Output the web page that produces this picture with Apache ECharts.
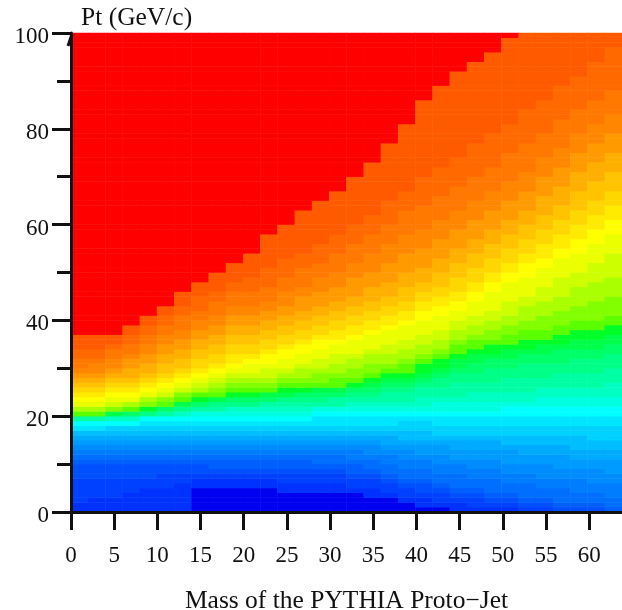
<!DOCTYPE html>
<html><head><meta charset="utf-8">
<script src="https://cdn.jsdelivr.net/npm/echarts@6/dist/echarts.min.js"></script>
<style>html,body{margin:0;padding:0;background:#fff}#c{width:622px;height:610px}</style>
</head><body><div id="c"></div>
<script>
// Pt (GeV/c) at which each colour band starts for mass columns 1,3,5,...,63
const xTitle = 'Mass of the PYTHIA Proto\u2212Jet';
const yTitle = 'Pt (GeV/c)';
const band1  = [0,0,0,0,0,0,0,5,5,5,5,5,4,4,4,4,4,3,3,2,1,1,0,0,0,0,0,0,0,0,0,0];
const band2  = [2,3,3,4,5,5,6,7,7,7,7,7,6,6,6,6,5,5,4,3,3,2,2,1,1,1,0,0,0,0,0,0];
const band3  = [7,7,7,7,7,8,8,8,8,8,8,8,8,8,8,8,7,7,6,5,4,4,3,3,2,2,1,1,0,0,0,0];
const band4  = [10,10,10,10,10,10,10,10,9,9,9,9,9,9,9,9,8,8,7,6,6,5,4,4,3,3,2,2,1,1,1,0];
const band5  = [11,11,11,11,11,11,11,11,11,11,11,11,11,11,10,10,10,9,8,7,7,6,5,5,4,4,3,3,2,2,2,1];
const band6  = [12,12,12,12,12,12,12,12,12,12,12,12,12,12,12,12,11,11,10,9,9,8,8,7,7,6,6,5,5,4,4,3];
const band7  = [13,13,13,13,13,13,13,13,13,13,13,13,13,13,13,13,13,12,12,11,11,10,10,9,9,8,8,7,7,7,6,6];
const band8  = [14,14,14,14,14,14,14,14,14,14,14,14,14,14,14,14,14,14,13,13,12,12,11,11,11,10,10,10,9,9,9,8];
const band9  = [15,15,15,15,15,15,15,15,15,15,15,15,15,15,15,15,15,15,14,14,14,14,13,13,13,13,12,12,12,11,11,11];
const band10 = [16,16,16,16,16,16,16,16,16,16,16,16,16,16,16,16,16,16,16,15,15,15,15,15,15,14,14,14,14,13,13,13];
const band11 = [17,17,17,17,17,17,17,17,17,17,17,17,17,17,17,17,17,17,17,17,17,16,16,16,16,16,16,16,16,16,15,15];
const band12 = [17,17,18,18,18,18,18,18,18,18,18,18,18,18,18,18,18,18,18,19,19,18,18,18,18,18,18,18,18,18,18,18];
const band13 = [18,18,18,18,19,19,19,19,19,19,19,19,19,19,20,20,20,20,20,20,20,20,20,20,20,20,20,20,20,20,20,20];
const band14 = [19,19,19,19,20,20,20,20,20,20,20,20,20,20,21,21,21,21,21,21,21,21,21,21,21,22,22,22,22,22,22,22];
const band15 = [19,19,19,19,20,20,20,21,21,21,21,21,21,21,22,22,22,22,22,22,22,23,23,23,23,23,23,24,24,24,24,24];
const band16 = [19,19,20,20,20,20,21,21,21,22,22,22,22,22,22,22,23,23,23,23,24,24,24,25,25,25,25,26,26,26,26,27];
const band17 = [20,20,20,20,20,21,21,22,22,22,22,23,23,23,23,24,24,24,25,25,26,26,27,27,27,28,28,28,29,29,29,30];
const band18 = [20,20,20,20,21,21,22,22,23,23,23,23,24,24,24,24,25,25,26,26,27,28,29,29,30,30,31,31,31,32,32,33];
const band19 = [20,20,20,21,21,22,22,23,23,24,24,24,24,25,25,25,26,26,27,27,28,29,30,31,32,32,33,33,34,34,34,35];
const band20 = [20,20,21,21,21,22,23,23,24,24,24,25,25,25,26,26,26,27,28,28,29,30,32,33,33,34,34,35,35,36,36,37];
const band21 = [20,20,21,21,22,22,23,24,24,25,25,25,26,26,26,26,27,28,29,29,31,32,33,34,35,35,36,36,37,38,38,39];
const band22 = [21,21,21,22,22,23,24,25,25,26,26,26,27,27,27,28,28,29,30,31,32,33,35,36,36,37,38,38,39,40,40,41];
const band23 = [21,21,22,22,23,24,25,25,26,27,27,27,28,28,29,29,30,31,31,32,33,34,36,37,38,39,40,41,42,43,44,45];
const band24 = [22,22,22,23,24,24,25,26,27,28,28,28,29,30,30,31,32,33,33,34,35,36,38,39,40,41,43,44,45,47,48,49];
const band25 = [22,22,23,23,24,25,26,27,28,29,29,30,30,31,32,33,33,34,35,36,37,38,40,41,42,44,45,47,49,50,52,54];
const band26 = [23,23,24,24,25,26,27,28,29,30,31,31,32,33,34,35,36,37,38,39,40,41,42,44,46,48,49,51,53,54,56,58];
const band27 = [24,24,25,25,26,27,28,29,30,31,32,33,34,35,36,36,37,38,39,40,42,43,44,46,48,50,52,53,55,57,59,61];
const band28 = [25,25,26,26,27,28,29,30,31,33,33,34,35,36,37,38,39,40,41,42,44,45,46,48,50,52,54,56,58,60,62,64];
const band29 = [26,26,27,27,28,29,30,32,33,35,35,36,37,38,39,40,41,42,43,44,46,47,49,51,53,55,57,59,61,63,65,67];
const band30 = [27,27,28,28,29,31,32,34,35,37,37,38,39,40,41,42,43,44,45,47,48,50,52,54,56,58,60,62,64,67,69,71];
const band31 = [28,28,29,30,31,33,34,36,37,39,39,40,41,42,43,44,45,47,48,50,51,53,55,57,59,61,63,66,68,71,73,75];
const band32 = [29,29,30,32,33,35,36,38,39,41,41,42,43,45,46,47,49,50,52,54,55,57,59,61,63,65,67,70,72,75,77,79];
const band33 = [30,31,32,33,35,37,38,40,41,43,43,44,46,47,49,50,52,54,56,58,59,61,63,65,67,69,71,74,76,79,81,83];
const band34 = [32,32,34,35,37,39,41,42,44,46,46,47,49,51,52,54,56,58,60,63,64,66,68,70,72,75,77,79,82,84,86,88];
const band35 = [34,34,35,37,39,41,43,45,46,48,49,51,53,54,56,58,60,62,65,67,70,72,74,77,79,81,84,86,89,91,94,97];
const band36 = [37,37,37,39,41,43,46,48,50,52,54,58,60,63,65,67,70,73,77,81,86,89,92,94,96,99,101,101,101,101,101,101];
const allBands = [band1,band2,band3,band4,band5,band6,band7,band8,band9,band10,band11,band12,
  band13,band14,band15,band16,band17,band18,band19,band20,band21,band22,band23,band24,
  band25,band26,band27,band28,band29,band30,band31,band32,band33,band34,band35,band36];

const palette = ['rgb(0,0,240)',
  'rgb(0,50,255)','rgb(0,65,255)','rgb(0,80,255)','rgb(0,95,255)','rgb(0,110,255)','rgb(0,125,255)',
  'rgb(0,140,255)','rgb(0,155,255)','rgb(0,170,255)','rgb(0,190,255)','rgb(0,210,255)','rgb(0,230,255)',
  'rgb(0,255,255)','rgb(0,255,225)','rgb(0,255,195)','rgb(0,255,165)','rgb(0,255,135)','rgb(0,255,105)',
  'rgb(0,255,75)','rgb(0,255,40)','rgb(90,255,0)','rgb(130,255,0)','rgb(170,255,0)','rgb(205,255,0)',
  'rgb(235,255,0)','rgb(255,255,0)','rgb(255,235,0)','rgb(255,215,0)','rgb(255,195,0)','rgb(255,175,0)',
  'rgb(255,155,0)','rgb(255,135,0)','rgb(255,120,0)','rgb(255,105,0)','rgb(255,90,0)','rgb(255,0,0)'];

const massCols = band1.map((_, i) => String(2 * i + 1));
const ptRows = Array.from({length: 100}, (_, i) => String(i));
const cells = [];
massCols.forEach((_, c) => ptRows.forEach((_, r) => {
  let level = 0;
  allBands.forEach(b => { if (b[c] <= r) level++; });
  cells.push([c, r, level]);
}));

const font = '"Liberation Serif","Times New Roman",serif';
const ink = '#111';
const chart = echarts.init(document.getElementById('c'), null, {renderer: 'canvas'});
chart.setOption({
  animation: false,
  backgroundColor: '#fff',
  grid: {left: 71, right: 0, top: 33, bottom: 98, containLabel: false, outerBoundsMode: 'none'},
  visualMap: {show: false, min: 0, max: palette.length - 1, seriesIndex: 0, inRange: {color: palette}},
  xAxis: [
    {type: 'category', data: massCols, show: false},
    {type: 'value', min: 0, max: 63.8, interval: 5, position: 'bottom', z: 5,
      axisLine: {show: true, onZero: false, lineStyle: {color: ink, width: 3}},
      axisTick: {show: true, inside: false, length: 18, lineStyle: {color: ink, width: 3}},
      splitLine: {show: false},
      axisLabel: {color: ink, fontFamily: font, fontSize: 23, margin: 32, showMaxLabel: false},
      name: xTitle, nameLocation: 'middle', nameGap: 76,
      nameTextStyle: {color: ink, fontFamily: font, fontSize: 25.5}}
  ],
  yAxis: [
    {type: 'category', data: ptRows, show: false},
    {type: 'value', min: 0, max: 100, interval: 20, position: 'left', z: 5,
      axisLine: {show: true, onZero: false, lineStyle: {color: ink, width: 3}},
      axisTick: {show: true, inside: false, length: 19, lineStyle: {color: ink, width: 3}},
      minorTick: {show: true, splitNumber: 2, length: 14, lineStyle: {color: ink, width: 3}},
      splitLine: {show: false}, minorSplitLine: {show: false},
      axisLabel: {fontFamily: font, margin: 22, formatter: '{t|{value}}',
        rich: {t: {color: ink, fontFamily: font, fontSize: 23, padding: [8, 0, 0, 0]}}},
      name: yTitle, nameLocation: 'end', nameGap: 2,
      nameTextStyle: {color: ink, fontFamily: font, fontSize: 25.5, align: 'left', padding: [0, 0, 0, 10]}}
  ],
  series: [{type: 'heatmap', xAxisIndex: 0, yAxisIndex: 0, data: cells, progressive: 0,
    itemStyle: {borderWidth: 0}, emphasis: {disabled: true}}],
  graphic: [{type: 'polyline', z: 10, shape: {points: [[72, 34], [68, 46]]}, style: {stroke: ink, lineWidth: 3}}]
});
</script></body></html>
